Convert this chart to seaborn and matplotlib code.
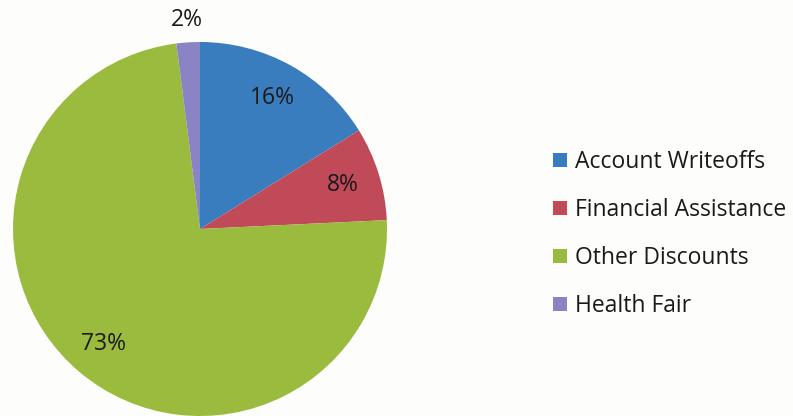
import numpy as np
import matplotlib
matplotlib.use("Agg")
import matplotlib.pyplot as plt
import seaborn as sns

categories = ["Account Writeoffs", "Financial Assistance", "Other Discounts", "Health Fair"]
values = [16, 8, 73, 2]
colors = ["#3a7dbf", "#c04a58", "#9bbb3e", "#8a84c4"]

sns.set_theme(style="white")
plt.rcParams["font.family"] = ["Open Sans", "DejaVu Sans"]

fig = plt.figure(figsize=(7.93, 4.16), dpi=100)
fig.patch.set_facecolor("#fdfdfc")
ax = fig.add_axes([0, 0, 1, 1])
ax.set_facecolor("#fdfdfc")

total = sum(values)

def pct_label(pct):
    return f"{int(round(pct * total / 100))}%"

wedges, texts, autotexts = ax.pie(
    values,
    colors=colors,
    startangle=90,
    counterclock=False,
    center=(200, 187),
    radius=187,
    autopct=pct_label,
    pctdistance=0.8,
    textprops=dict(fontsize=16.5, color="#1a1a1a"),
    wedgeprops=dict(linewidth=0),
)

# small slice: put its label just outside the rim
w = wedges[3]
mid = np.deg2rad((w.theta1 + w.theta2) / 2)
autotexts[3].set_position((200 + 1.12 * 187 * np.cos(mid), 187 + 1.12 * 187 * np.sin(mid)))

ax.set_xlim(0, 793)
ax.set_ylim(0, 416)
ax.set_aspect("equal")
ax.axis("off")

leg = ax.legend(
    wedges, categories,
    loc="center left",
    bbox_to_anchor=(553 / 793, 1 - 234 / 416),
    frameon=False,
    fontsize=16.5,
    handlelength=0.6,
    handleheight=0.6,
    handletextpad=0.35,
    labelspacing=1.05,
    borderpad=0,
    borderaxespad=0,
)
for t in leg.get_texts():
    t.set_color("#1a1a1a")

fig.savefig("out.png", dpi=100, facecolor=fig.get_facecolor())
